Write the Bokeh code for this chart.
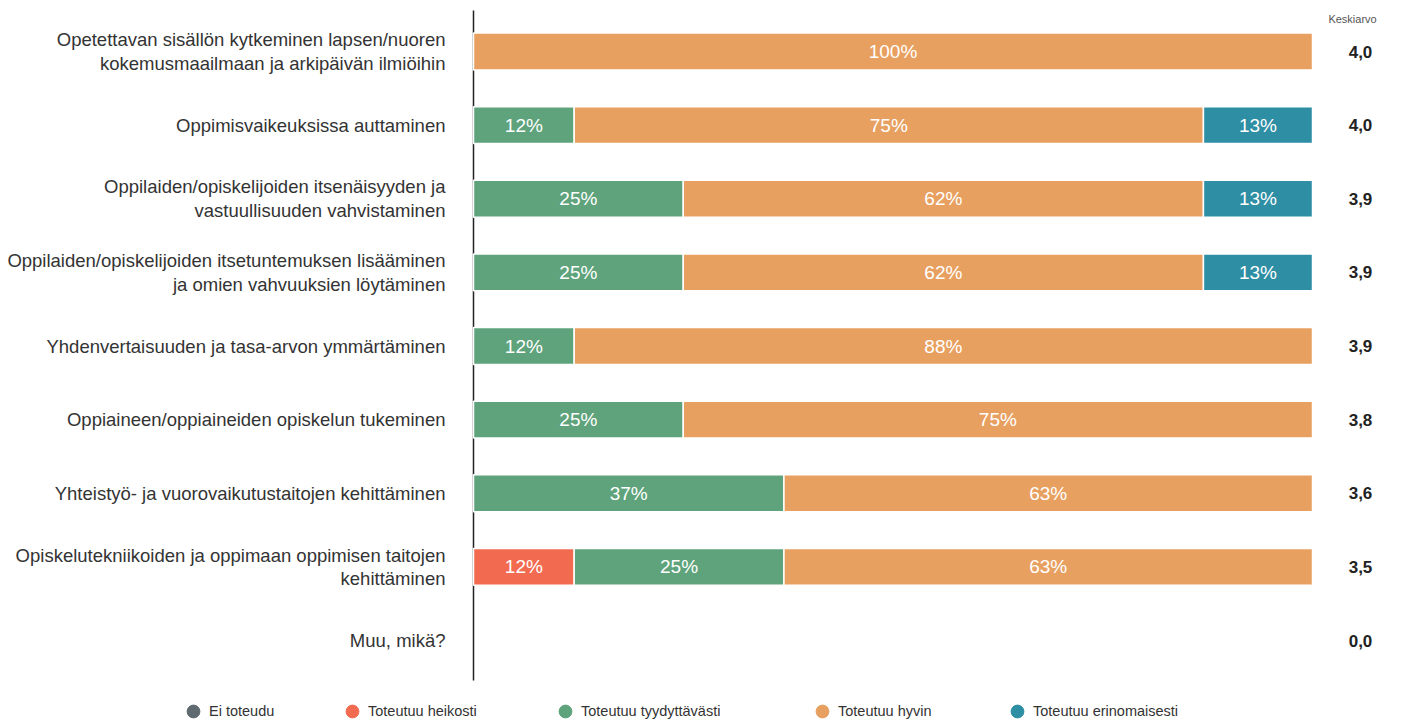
import numpy as np
from bokeh.plotting import figure
from bokeh.models import ColumnDataSource, Range1d, Legend, LegendItem
from bokeh.core.properties import value
from bokeh.embed import file_html
from bokeh.resources import INLINE

categories = [
    "Opetettavan sisällön kytkeminen lapsen/nuoren\nkokemusmaailmaan ja arkipäivän ilmiöihin",
    "Oppimisvaikeuksissa auttaminen",
    "Oppilaiden/opiskelijoiden itsenäisyyden ja\nvastuullisuuden vahvistaminen",
    "Oppilaiden/opiskelijoiden itsetuntemuksen lisääminen\nja omien vahvuuksien löytäminen",
    "Yhdenvertaisuuden ja tasa-arvon ymmärtäminen",
    "Oppiaineen/oppiaineiden opiskelun tukeminen",
    "Yhteistyö- ja vuorovaikutustaitojen kehittäminen",
    "Opiskelutekniikoiden ja oppimaan oppimisen taitojen\nkehittäminen",
    "Muu, mikä?",
]
ei_toteudu = [0, 0, 0, 0, 0, 0, 0, 0, 0]
toteutuu_heikosti = [0, 0, 0, 0, 0, 0, 0, 12, 0]
toteutuu_tyydyttavasti = [0, 12, 25, 25, 12, 25, 37, 25, 0]
toteutuu_hyvin = [100, 75, 62, 62, 88, 75, 63, 63, 0]
toteutuu_erinomaisesti = [0, 13, 13, 13, 0, 0, 0, 0, 0]
keskiarvo = [4.0, 4.0, 3.9, 3.9, 3.9, 3.8, 3.6, 3.5, 0.0]

series_names = ["Ei toteudu", "Toteutuu heikosti", "Toteutuu tyydyttävästi",
                "Toteutuu hyvin", "Toteutuu erinomaisesti"]
series_values = [ei_toteudu, toteutuu_heikosti, toteutuu_tyydyttavasti,
                 toteutuu_hyvin, toteutuu_erinomaisesti]
series_colors = ["#5f6b70", "#f26b50", "#5ea37b", "#e8a060", "#2e8ea4"]

FONT = "Liberation Sans"
n = len(categories)
rows = list(range(n))

# build stacked segments
seg = dict(y=[], left=[], right=[], mid=[], color=[], label=[])
cum = [0.0] * n
for vals, col in zip(series_values, series_colors):
    for i, v in enumerate(vals):
        if v > 0:
            seg["y"].append(i)
            seg["left"].append(cum[i])
            seg["right"].append(cum[i] + v)
            seg["mid"].append(cum[i] + v / 2)
            seg["color"].append(col)
            seg["label"].append(f"{v}%")
        cum[i] += v
seg_src = ColumnDataSource(seg)

p = figure(width=1408, height=722,
           x_range=Range1d(-56.376, 111.44), y_range=Range1d(9.1137, -0.6927),
           x_axis_type=None, y_axis_type=None,
           toolbar_location=None, output_backend="svg",
           min_border=0, outline_line_color=None)
p.background_fill_color = "white"

# axis line
p.segment(x0=[0], y0=[-0.557], x1=[0], y1=[n - 1 + 0.543], line_color="#222222", line_width=1.5)

p.hbar(y="y", left="left", right="right", height=0.5, fill_color="color",
       line_color="white", line_width=1.5, source=seg_src)
p.text(x="mid", y="y", text="label", source=seg_src, text_align="center",
       text_baseline="middle", text_color="white", text_font=value(FONT),
       text_font_size="19px")

# category labels
p.text(x=[-3.34] * n, y=rows, text=categories, text_align="right",
       text_baseline="middle", text_color="#333333", text_font=value(FONT),
       text_font_size="18.5px", text_line_height=1.13)

# averages
avg_labels = [f"{a:.1f}".replace(".", ",") for a in keskiarvo]
p.text(x=[105.72] * n, y=rows, text=avg_labels, text_align="center",
       text_baseline="middle", text_color="#222222", text_font=value(FONT),
       text_font_size="17px", text_font_style="bold")
p.text(x=[104.77], y=[-0.448], text=["Keskiarvo"], text_align="center",
       text_baseline="middle", text_color="#555555", text_font=value(FONT),
       text_font_size="11px")

# legend (one legend per entry for exact placement)
legend_x = [177, 336, 549, 806, 1001]
for name, col, lx in zip(series_names, series_colors, legend_x):
    r = p.scatter(x=[np.nan], y=[np.nan], marker="circle", size=13,
                  fill_color=col, line_color=col)
    lg = Legend(items=[LegendItem(label=name, renderers=[r])],
                orientation="horizontal", location=(lx, -5),
                label_text_font=FONT, label_text_font_size="14.5px",
                label_text_color="#333333", label_height=32, glyph_height=32,
                glyph_width=32, label_standoff=-3, padding=0, margin=0,
                background_fill_alpha=0, border_line_alpha=0)
    p.add_layout(lg)

open("out.html", "w").write(file_html(p, INLINE))
